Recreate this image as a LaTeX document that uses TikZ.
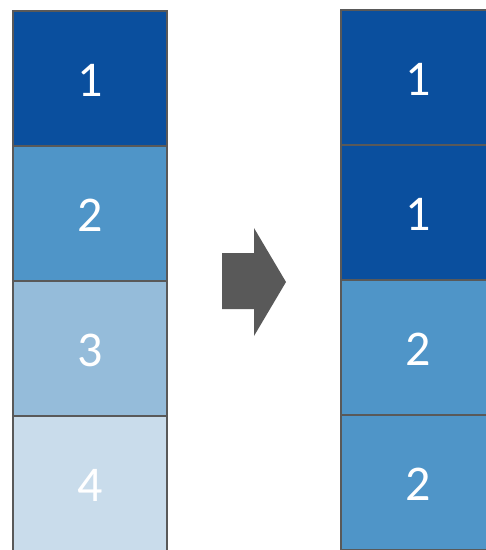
\documentclass[tikz,border=0pt]{standalone}
\usepackage{fontspec}
\setmainfont{Carlito}
\begin{document}
\begin{tikzpicture}[
    x=1pt, y=-1pt,
    celda/.style={draw=gris, line width=1.6pt, minimum width=154pt, minimum height=135pt,
      inner sep=0pt, text=white, text height=36pt, text depth=0pt,
      font=\fontsize{50}{50}\selectfont},
    flecha/.style={fill=gris, draw=none}
  ]
    \definecolor{gris}{HTML}{595959}
    \definecolor{azul1}{HTML}{0A4F9E}
    \definecolor{azul2}{HTML}{4F95C8}
    \definecolor{azul3}{HTML}{95BCDA}
    \definecolor{azul4}{HTML}{C9DCEB}

    % --- Parámetros ---
    \def\xIzq{90}    % centro columna izquierda
    \def\xDer{418}   % centro columna derecha
    \def\yIni{78.5}  % centro de la primera celda
    \def\alto{135}   % alto de celda

    \useasboundingbox (0,0) rectangle (486,550);
    \clip (0,0) rectangle (486,550);

    % --- Columna izquierda ---
    \foreach \i/\col in {1/azul1, 2/azul2, 3/azul3, 4/azul4} {
      \node[celda, fill=\col] (izq\i) at (\xIzq, {\yIni + (\i-1)*\alto}) {\i};
    }

    % --- Columna derecha ---
    \foreach \i/\col/\txt in {1/azul1/1, 2/azul1/1, 3/azul2/2, 4/azul2/2} {
      \node[celda, fill=\col] (der\i) at (\xDer, {\yIni - 1 + (\i-1)*\alto}) {\txt};
    }

    % --- Flecha ---
    \fill[flecha] (222,253) -- (254,253) -- (254,228) -- (286,282)
      -- (254,336) -- (254,309) -- (222,309) -- cycle;

  \end{tikzpicture}
\end{document}
